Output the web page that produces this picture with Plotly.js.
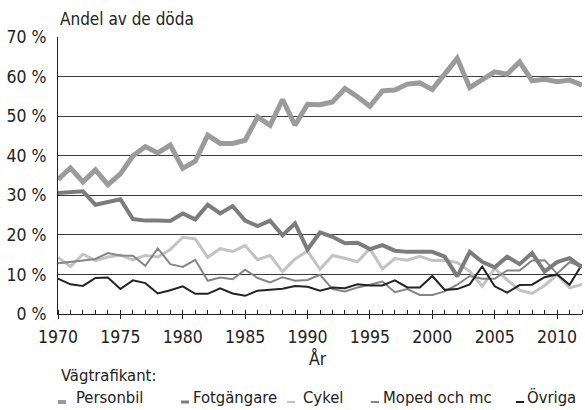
<!DOCTYPE html>
<html>
<head>
<meta charset="utf-8">
<script src="https://cdn.plot.ly/plotly-3.0.1.min.js"></script>
<style>html,body{margin:0;padding:0;background:#fff;}#chart{width:585px;height:410px;}</style>
</head>
<body>
<div id="chart"></div>
<script>
const years = [];
for (let y = 1970; y <= 2012; y++) years.push(y);

const personbil = [34.0,36.9,33.4,36.4,32.7,35.4,39.9,42.3,40.7,42.7,36.8,38.6,45.2,43.1,43.1,43.9,49.8,47.7,54.2,47.7,53.0,52.9,53.6,57.0,54.9,52.5,56.4,56.6,58.1,58.4,56.7,60.9,64.6,57.2,59.3,61.2,60.6,63.7,58.9,59.3,58.7,59.1,57.8];
const fotgangare = [30.6,30.7,31.0,27.6,28.4,29.0,24.0,23.6,23.6,23.5,25.4,23.9,27.6,25.4,27.3,23.6,22.2,23.6,19.9,22.9,16.3,20.6,19.5,17.9,18.0,16.4,17.4,16.0,15.7,15.7,15.7,14.5,9.5,15.7,13.2,11.8,14.5,12.6,15.4,10.7,13.1,14.1,11.8];
const cykel = [14.3,12.0,15.1,13.5,14.4,14.9,13.7,14.8,14.4,16.3,19.4,19.0,14.3,16.5,15.8,17.3,13.7,14.8,10.7,13.9,15.9,11.3,14.8,14.1,13.2,16.5,11.4,14.0,13.6,14.6,13.5,13.6,13.0,10.8,7.0,11.5,8.6,6.0,5.2,7.2,9.9,6.6,7.5];
const moped = [12.8,13.1,13.5,13.9,15.4,14.8,14.7,12.2,16.6,12.6,11.9,13.7,8.4,9.2,8.8,11.2,9.1,8.0,9.3,8.4,8.6,9.9,6.3,5.7,6.7,7.4,8.2,5.5,6.3,4.8,4.8,5.7,7.4,9.6,8.9,8.9,11.0,11.0,13.5,13.6,10.2,13.1,11.9];
const ovriga = [8.9,7.5,7.1,9.1,9.2,6.3,8.5,7.8,5.2,6.0,7.0,5.1,5.1,6.5,5.2,4.6,5.9,6.1,6.4,7.1,6.9,5.9,6.7,6.5,7.5,7.2,7.2,8.5,6.7,6.7,9.6,6.1,6.3,7.5,12.0,7.0,5.4,7.3,7.4,9.3,10.0,7.4,12.5];

const seriesNames = ['Personbil','Fotgängare','Cykel','Moped och mc','Övriga'];
const seriesData = [personbil, fotgangare, cykel, moped, ovriga];
const colors = ['#9b9b9d','#7c7c7e','#c3c3c3','#858585','#232323'];
const widths = [5, 4, 3, 2, 2];

const titleText = 'Andel av de döda';
const xTitle = 'År';
const legendTitle = 'Vägtrafikant:';

const FONT = 'DejaVu Sans Condensed, Liberation Sans Narrow, sans-serif';
const FS = 16.5;
const TXT = '#222';

// pixel helpers (plot area: x 58..582, y 37..314)
const L = 58, R = 582, T = 37, B = 314;
const px = x => (x - L) / (R - L);
const py = y => (B - y) / (B - T);

const order = [2, 3, 4, 1, 0];
const traces = order.map(i => ({
  x: years, y: seriesData[i], type: 'scatter', mode: 'lines', name: seriesNames[i],
  line: {color: colors[i], width: widths[i]}, showlegend: false, hoverinfo: 'skip'
}));

// legend positions (symbol left, text left) in pixels
const legSym = [58, 181, 287, 371, 516];
const legTxt = [76, 193, 303, 383, 527];
const shapes = [];
const annotations = [
  {text: titleText, xref: 'paper', yref: 'paper', x: px(58), y: py(19.5), xanchor: 'left', yanchor: 'middle', showarrow: false, font: {family: FONT, size: FS + 0.5, color: TXT}},
  {text: xTitle, xref: 'paper', yref: 'paper', x: px(318), y: py(358), xanchor: 'center', yanchor: 'middle', showarrow: false, font: {family: FONT, size: FS + 1, color: TXT}},
  {text: legendTitle, xref: 'paper', yref: 'paper', x: px(59), y: py(375), xanchor: 'left', yanchor: 'middle', showarrow: false, font: {family: FONT, size: FS, color: TXT}}
];
seriesNames.forEach((n, i) => {
  shapes.push({type: 'line', xref: 'paper', yref: 'paper', x0: px(legSym[i]), x1: px(legSym[i] + 8), y0: py(402), y1: py(402), line: {color: colors[i], width: Math.max(2, widths[i] - 1)}});
  annotations.push({text: n, xref: 'paper', yref: 'paper', x: px(legTxt[i] - 2), y: py(398), xanchor: 'left', yanchor: 'middle', showarrow: false, font: {family: FONT, size: FS, color: TXT}});
});

const layout = {
  width: 585, height: 410,
  margin: {l: L, r: 585 - R, t: T, b: 410 - B, pad: 0},
  paper_bgcolor: '#fff', plot_bgcolor: '#fff',
  showlegend: false,
  font: {family: FONT, size: FS, color: TXT},
  xaxis: {
    range: [1970, 2012], tick0: 1970, dtick: 5, ticks: 'outside', ticklen: 4, tickcolor: '#222', tickwidth: 1,
    showline: true, linecolor: '#222', linewidth: 1, showgrid: false, zeroline: false,
    tickfont: {family: FONT, size: FS + 1, color: TXT}, ticklabelstandoff: 3,
    minor: {dtick: 1, ticks: 'inside', ticklen: 4, tickcolor: '#222', tickwidth: 1, showgrid: false},
    fixedrange: true
  },
  xaxis2: {
    overlaying: 'x', matches: 'x', anchor: 'y', range: [1970, 2012], tick0: 1970, dtick: 5,
    ticks: 'inside', ticklen: 4, tickcolor: '#222', showticklabels: false, showline: false, showgrid: false, zeroline: false
  },
  yaxis: {
    range: [0, 70], dtick: 10, ticksuffix: ' %', ticks: '', showline: true, linecolor: '#222', linewidth: 1,
    showgrid: true, gridcolor: '#3a3a3a', gridwidth: 1, zeroline: false,
    tickfont: {family: FONT, size: FS + 1, color: TXT}, ticklabelstandoff: 7, fixedrange: true
  },
  shapes: shapes,
  annotations: annotations
};

traces.push({x: [1970], y: [null], xaxis: 'x2', yaxis: 'y', type: 'scatter', mode: 'lines', showlegend: false, hoverinfo: 'skip'});

Plotly.newPlot('chart', traces, layout, {staticPlot: true, displayModeBar: false});
</script>
</body>
</html>
